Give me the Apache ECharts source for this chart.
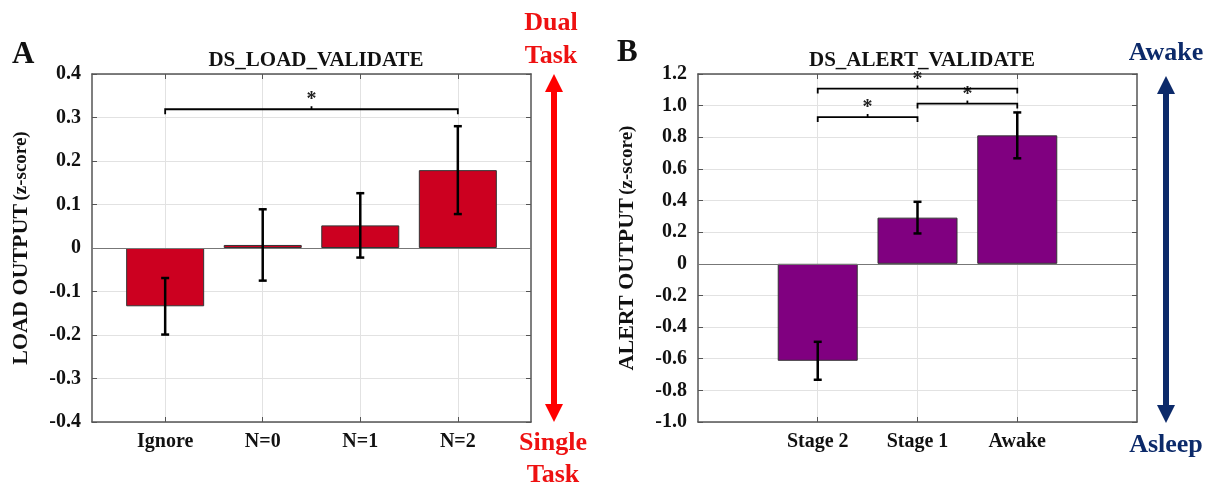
<!DOCTYPE html>
<html>
<head>
<meta charset="utf-8">
<script src="https://cdn.jsdelivr.net/npm/echarts@6/dist/echarts.min.js"></script>
<style>html,body{margin:0;background:#fff}#main{width:1210px;height:485px}</style>
</head>
<body>
<div id="main"></div>
<script>
// panel A
var loadCats = ['Ignore', 'N=0', 'N=1', 'N=2'];
var loadMean = [-0.134, 0.007, 0.052, 0.179];
var loadErr = [0.065, 0.082, 0.074, 0.101];
var loadSig = [[0, 3, 0.319]];
// panel B
var alertCats = ['Stage 2', 'Stage 1', 'Awake'];
var alertMean = [-0.613, 0.292, 0.812];
var alertErr = [0.12, 0.1, 0.145];
var alertSig = [[0, 1, 0.928], [1, 2, 1.013], [0, 2, 1.108]];

var serif = '"Liberation Serif", "DejaVu Serif", serif';
var frame = '#555';
var gridW = 439;

function fmtY(v) {
  return Math.abs(v) < 1e-9 ? '0' : v.toFixed(1);
}

function makeAxes(gi, cats, xmin, xmax, ymin, ymax, step, name) {
  var pos = cats.map(function (c, i) { return i + 1; });
  var xs = [{
    gridIndex: gi, type: 'value', min: xmin, max: xmax, position: 'bottom',
    axisLine: { onZero: false, lineStyle: { color: frame, width: 1.5 } },
    axisTick: { inside: true, length: 5, customValues: pos, lineStyle: { color: frame } },
    axisLabel: {
      customValues: pos, margin: 10, color: '#111',
      fontFamily: serif, fontWeight: 'bold', fontSize: 20,
      formatter: function (v) { return cats[Math.round(v) - 1]; }
    },
    splitLine: { show: true, lineStyle: { color: '#e2e2e2', width: 1 } }
  }, {
    gridIndex: gi, type: 'value', min: xmin, max: xmax, position: 'top',
    axisLine: { onZero: false, lineStyle: { color: frame, width: 1.5 } },
    axisTick: { inside: true, length: 5, customValues: pos, lineStyle: { color: frame } },
    axisLabel: { show: false }, splitLine: { show: false }
  }];
  var ys = [{
    gridIndex: gi, type: 'value', min: ymin, max: ymax, interval: step, position: 'left',
    name: '{a|' + name + '} {b|(z-score)}', nameLocation: 'middle', nameRotate: 90, nameGap: 60,
    nameTextStyle: {
      rich: {
        a: { fontFamily: serif, fontWeight: 'bold', fontSize: 22, color: '#111' },
        b: { fontFamily: serif, fontWeight: 'bold', fontSize: 19, color: '#111' }
      }
    },
    axisLine: { onZero: false, lineStyle: { color: frame, width: 1.5 } },
    axisTick: { inside: true, length: 5, lineStyle: { color: frame } },
    axisLabel: { margin: 11, color: '#111', fontFamily: serif, fontWeight: 'bold', fontSize: 20, formatter: fmtY },
    splitLine: { show: true, lineStyle: { color: '#e2e2e2', width: 1 } }
  }, {
    gridIndex: gi, type: 'value', min: ymin, max: ymax, interval: step, position: 'right',
    axisLine: { onZero: false, lineStyle: { color: frame, width: 1.5 } },
    axisTick: { inside: true, length: 5, lineStyle: { color: frame } },
    axisLabel: { show: false }, splitLine: { show: false }
  }];
  return { x: xs, y: ys };
}

function makeSeries(ai, mean, err, sig, color, barW, tickLen) {
  var barData = mean.map(function (m, i) { return [i + 1, m]; });
  var errData = mean.map(function (m, i) { return [i + 1, m - err[i], m + err[i]]; });
  return [{
    type: 'bar', xAxisIndex: ai, yAxisIndex: ai, data: barData, barWidth: barW,
    itemStyle: { color: color, borderColor: '#333', borderWidth: 1 },
    markLine: {
      silent: true, symbol: 'none', label: { show: false },
      lineStyle: { color: '#777', width: 1.2, type: 'solid' },
      data: [{ yAxis: 0 }]
    },
    z: 2
  }, {
    type: 'custom', xAxisIndex: ai, yAxisIndex: ai, data: errData, z: 5,
    renderItem: function (params, api) {
      var top = api.coord([api.value(0), api.value(2)]);
      var bot = api.coord([api.value(0), api.value(1)]);
      var st = { stroke: '#000', lineWidth: 2.5 };
      return {
        type: 'group', children: [
          { type: 'line', shape: { x1: top[0], y1: top[1], x2: bot[0], y2: bot[1] }, style: st },
          { type: 'line', shape: { x1: top[0] - 4, y1: top[1], x2: top[0] + 4, y2: top[1] }, style: st },
          { type: 'line', shape: { x1: bot[0] - 4, y1: bot[1], x2: bot[0] + 4, y2: bot[1] }, style: st }
        ]
      };
    }
  }, {
    type: 'custom', xAxisIndex: ai, yAxisIndex: ai, data: sig, z: 6,
    renderItem: function (params, api) {
      var a = api.coord([api.value(0) + 1, api.value(2)]);
      var b = api.coord([api.value(1) + 1, api.value(2)]);
      var m = (a[0] + b[0]) / 2;
      var st = { stroke: '#000', lineWidth: 1.8, fill: null };
      return {
        type: 'group', children: [
          { type: 'polyline', shape: { points: [[a[0], a[1] + tickLen], [a[0], a[1]], [b[0], b[1]], [b[0], b[1] + tickLen]] }, style: st },
          { type: 'line', shape: { x1: m, y1: a[1], x2: m, y2: a[1] - 3 }, style: st },
          { type: 'text', x: m, y: a[1] + 1, style: { text: '*', fill: '#222', font: 'bold 20px ' + serif, align: 'center', verticalAlign: 'bottom' } }
        ]
      };
    }
  }];
}

var axA = makeAxes(0, loadCats, 0.25, 4.75, -0.4, 0.4, 0.1, 'LOAD OUTPUT');
var axB = makeAxes(1, alertCats, -0.2, 4.2, -1.0, 1.2, 0.2, 'ALERT OUTPUT');

var titleStyle = { fontFamily: serif, fontWeight: 'bold', fontSize: 21, color: '#111' };
var sideStyle = function (c) { return { font: 'bold 26px ' + serif, fill: c, align: 'center', verticalAlign: 'middle' }; };
var red = '#ff0000', navy = '#0c2a6a';

function arrow(x, y1, y2, c) {
  return [
    { type: 'line', shape: { x1: x, y1: y1 + 16, x2: x, y2: y2 - 16 }, style: { stroke: c, lineWidth: 6 } },
    { type: 'polygon', shape: { points: [[x - 9, y1 + 18], [x, y1], [x + 9, y1 + 18]] }, style: { fill: c } },
    { type: 'polygon', shape: { points: [[x - 9, y2 - 18], [x, y2], [x + 9, y2 - 18]] }, style: { fill: c } }
  ];
}

var chart = echarts.init(document.getElementById('main'), null, { renderer: 'canvas' });
chart.setOption({
  backgroundColor: '#fff',
  animation: false,
  title: [
    { text: 'DS_LOAD_VALIDATE', left: 311, top: 45, textAlign: 'center', textStyle: titleStyle },
    { text: 'DS_ALERT_VALIDATE', left: 917, top: 45, textAlign: 'center', textStyle: titleStyle }
  ],
  grid: [
    { left: 92, top: 74, width: gridW, height: 348 },
    { left: 698, top: 74, width: gridW, height: 348 }
  ],
  xAxis: axA.x.concat(axB.x),
  yAxis: axA.y.concat(axB.y),
  series: makeSeries(0, loadMean, loadErr, loadSig, '#cc0020', Math.round(gridW / 4.5 * 0.8), 5)
    .concat(makeSeries(2, alertMean, alertErr, alertSig, '#800080', Math.round(gridW / 4.4 * 0.8), 5)),
  graphic: [
    { type: 'text', left: 12, top: 39, style: { text: 'A', font: 'bold 31px ' + serif, fill: '#111' } },
    { type: 'text', left: 617, top: 37, style: { text: 'B', font: 'bold 31px ' + serif, fill: '#111' } },
    { type: 'text', x: 551, y: 23, style: Object.assign(sideStyle('#ee1111'), { text: 'Dual' }) },
    { type: 'text', x: 551, y: 56, style: Object.assign(sideStyle('#ee1111'), { text: 'Task' }) },
    { type: 'text', x: 553, y: 443, style: Object.assign(sideStyle('#ee1111'), { text: 'Single' }) },
    { type: 'text', x: 553, y: 475, style: Object.assign(sideStyle('#ee1111'), { text: 'Task' }) },
    { type: 'text', x: 1166, y: 53, style: Object.assign(sideStyle(navy), { text: 'Awake' }) },
    { type: 'text', x: 1166, y: 445, style: Object.assign(sideStyle(navy), { text: 'Asleep' }) }
  ].concat(arrow(554, 74, 422, red)).concat(arrow(1166, 76, 423, navy))
});
</script>
</body>
</html>
